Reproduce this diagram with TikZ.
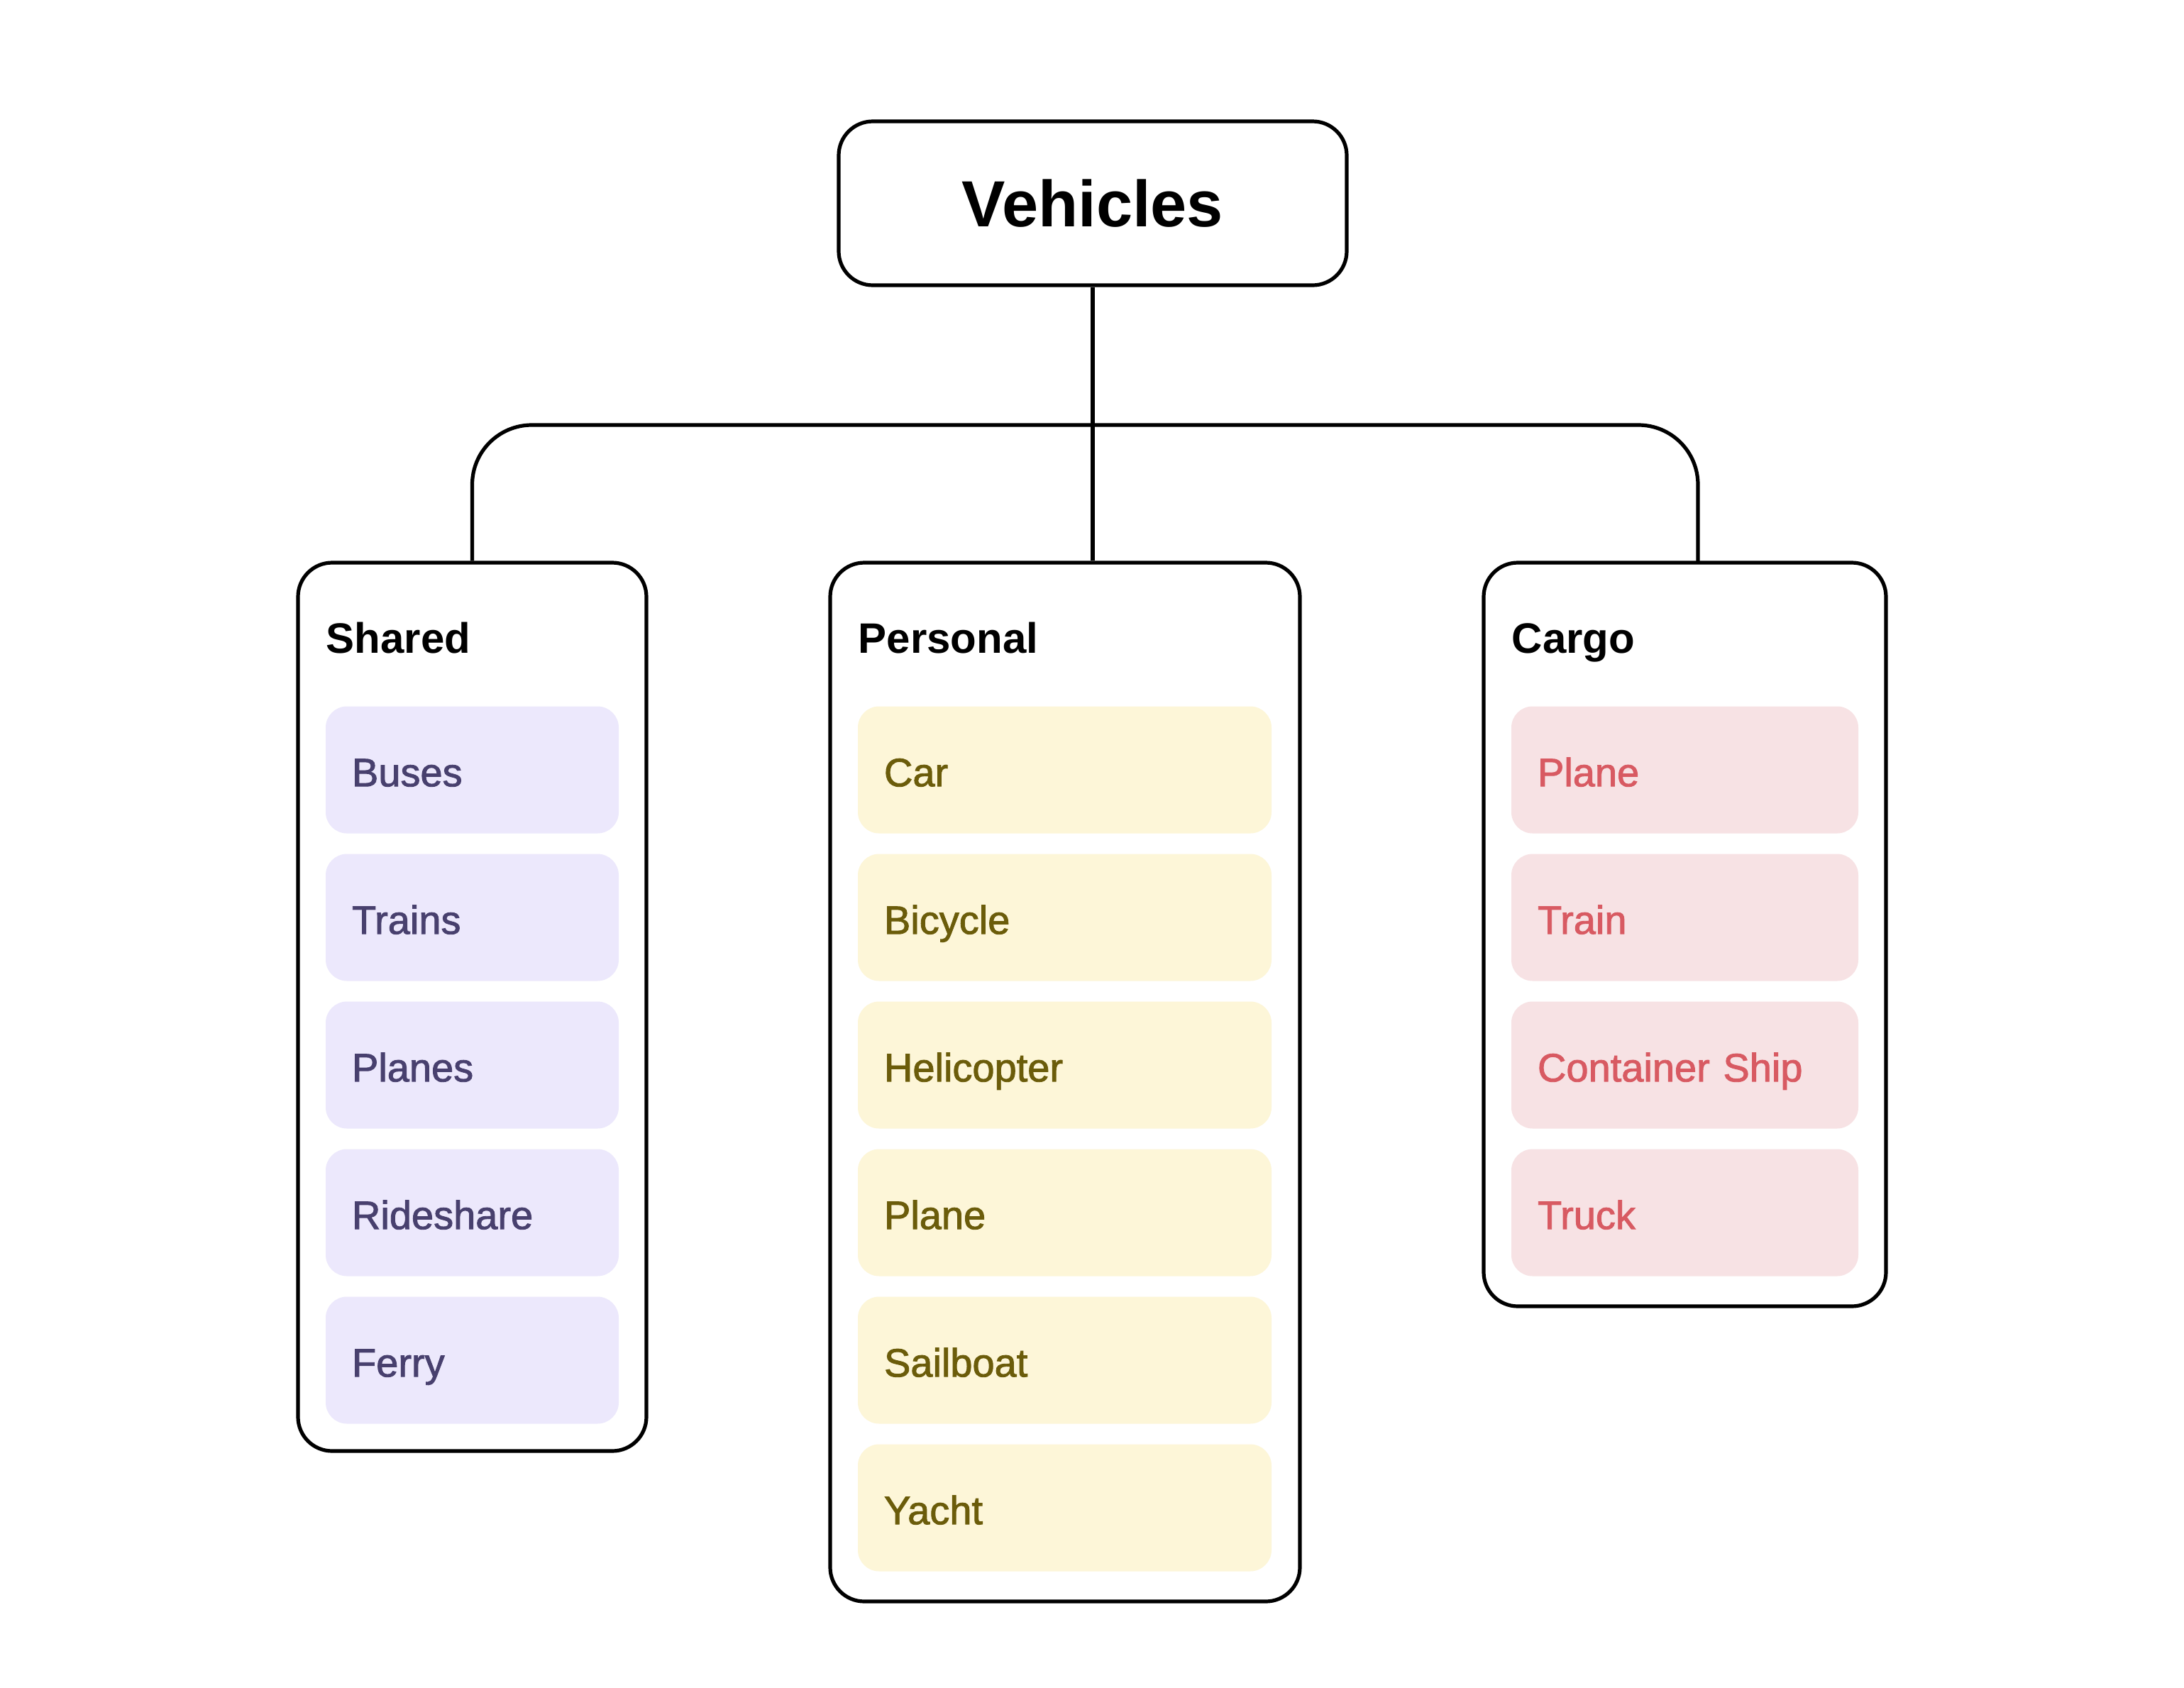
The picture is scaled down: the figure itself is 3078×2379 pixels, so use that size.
\documentclass[tikz,border=0pt]{standalone}
\usepackage{fontspec}
\setmainfont{Liberation Sans}
\newfontfamily\medfont[FakeBold=1.6]{Liberation Sans}
\definecolor{shfill}{RGB}{236,232,252}
\definecolor{shtext}{RGB}{72,64,110}
\definecolor{pefill}{RGB}{253,246,216}
\definecolor{petext}{RGB}{107,92,10}
\definecolor{cafill}{RGB}{247,226,228}
\definecolor{catext}{RGB}{216,90,98}
\tikzset{
  box/.style={draw=black, line width=1.3pt, rounded corners=12pt, fill=white, inner sep=0pt},
  rootbox/.style={box, minimum width=179pt, minimum height=57.75pt, font=\bfseries\fontsize{23}{28}\selectfont},
  header/.style={anchor=west, inner sep=0pt, font=\bfseries\fontsize{15}{18}\selectfont, text height=10.8pt, text depth=0pt},
  item/.style={draw=none, rounded corners=7.5pt, minimum height=44.75pt, inner xsep=9.25pt, inner ysep=0pt, align=left, text height=11.6pt, text depth=0pt, font=\medfont\fontsize{14}{17}\selectfont},
  shitem/.style={item, fill=shfill, text=shtext, text width=84.75pt},
  peitem/.style={item, fill=pefill, text=petext, text width=127.25pt},
  caitem/.style={item, fill=cafill, text=catext, text width=103.75pt},
  conn/.style={draw=black, line width=1.3pt},
}
\begin{document}
\begin{tikzpicture}[x=0.25pt, y=-0.25pt]
\useasboundingbox (0,0) rectangle (3078,2379);
% group boxes
\node[box, minimum width=122.75pt, minimum height=313pt] (shared) at (665.5,1419) {};
\node[box, minimum width=165.5pt, minimum height=366pt] (personal) at (1501,1525) {};
\node[box, minimum width=141.75pt, minimum height=262pt] (cargo) at (2374.5,1317) {};
% root
\node[rootbox] (root) at (1540,286.5) {Vehicles};
% connectors
\coordinate (bar) at (1540,599);
\coordinate (cargodrop) at (2393,793);
\draw[conn] (root.south) -- (root.south |- personal.north);
\draw[conn, rounded corners=21pt] (shared.north) |- (bar) -| (cargodrop);
% headers
\node[header] (hsh) at (459,899) {Shared};
\node[header] (hpe) at (1209,899) {Personal};
\node[header] (hca) at (2130,899) {Cargo};
% shared items
\node[shitem] (s1) at (665.5,1085) {Buses};
\node[shitem] (s2) at (665.5,1293) {Trains};
\node[shitem] (s3) at (665.5,1501) {Planes};
\node[shitem] (s4) at (665.5,1709) {Rideshare};
\node[shitem] (s5) at (665.5,1917) {Ferry};
% personal items
\node[peitem] (p1) at (1500.5,1085) {Car};
\node[peitem] (p2) at (1500.5,1293) {Bicycle};
\node[peitem] (p3) at (1500.5,1501) {Helicopter};
\node[peitem] (p4) at (1500.5,1709) {Plane};
\node[peitem] (p5) at (1500.5,1917) {Sailboat};
\node[peitem] (p6) at (1500.5,2125) {Yacht};
% cargo items
\node[caitem] (c1) at (2374.5,1085) {Plane};
\node[caitem] (c2) at (2374.5,1293) {Train};
\node[caitem] (c3) at (2374.5,1501) {Container Ship};
\node[caitem] (c4) at (2374.5,1709) {Truck};
\end{tikzpicture}
\end{document}
